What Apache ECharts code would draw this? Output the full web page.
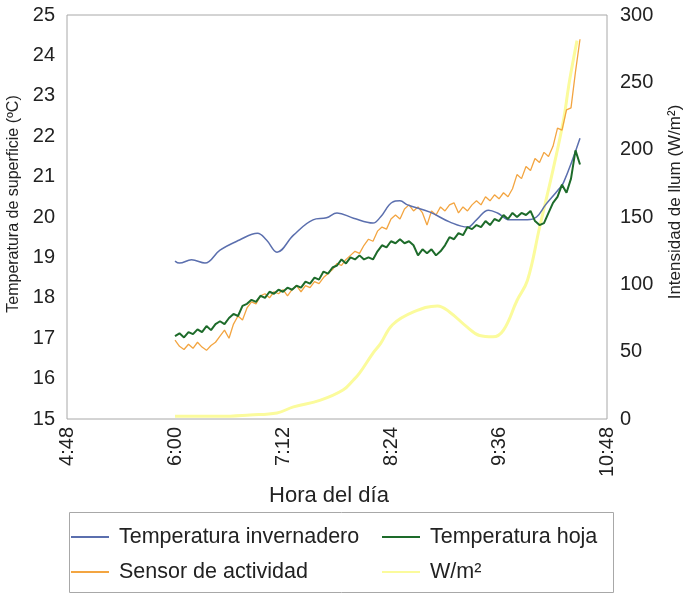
<!DOCTYPE html>
<html>

<head>
	<meta charset="utf-8">
	<title>temperatura hoja</title>
	<script type="text/javascript" src="https://cdn.jsdelivr.net/npm/echarts@6/dist/echarts.min.js"></script>
	<style>
		html, body { margin: 0; padding: 0; background: #fff; }
		#DIV1 { width: 684px; height: 595px; }
	</style>
</head>

<body>
	<div id="DIV1">
	</div>

	<script type="text/javascript">

		// readings of the leaf sensors, one every 3 minutes from 6:00
		const sampleStart = 360;
		const sampleStep = 3;

		const tempHoja = [
			17.05, 17.12, 17.02, 17.15, 17.1, 17.22, 17.15, 17.3, 17.2, 17.35,
			17.42, 17.35, 17.5, 17.6, 17.55, 17.8, 17.85, 17.95, 17.9, 18.05,
			18.0, 18.15, 18.1, 18.2, 18.15, 18.25, 18.2, 18.3, 18.25, 18.4,
			18.35, 18.5, 18.45, 18.65, 18.6, 18.75, 18.8, 18.95, 18.85, 19.0,
			18.95, 19.05, 18.95, 19.0, 18.95, 19.15, 19.3, 19.25, 19.4, 19.35,
			19.45, 19.35, 19.4, 19.3, 19.05, 19.2, 19.1, 19.2, 19.05, 19.15,
			19.3, 19.5, 19.45, 19.6, 19.55, 19.75, 19.7, 19.8, 19.75, 19.9,
			19.8, 19.95, 19.9, 20.05, 19.95, 20.1, 20.0, 20.1, 20.05, 20.15,
			19.9, 19.8, 19.85, 20.1, 20.35, 20.5, 20.8, 20.6, 20.95, 21.65,
			21.3
		];

		const sensorActividad = [
			16.95, 16.8, 16.72, 16.85, 16.75, 16.9, 16.78, 16.7, 16.82, 16.9,
			17.05, 17.2, 17.0, 17.35, 17.55, 17.45, 17.75, 17.9, 17.85, 18.05,
			18.1, 18.0, 18.15, 18.1, 18.2, 18.05, 18.2, 18.3, 18.15, 18.3,
			18.25, 18.4, 18.35, 18.5, 18.6, 18.7, 18.85, 18.8, 18.95, 19.05,
			19.15, 19.1, 19.3, 19.45, 19.4, 19.65, 19.75, 19.7, 19.95, 20.05,
			19.95, 20.2, 20.3, 20.15, 20.25, 20.1, 19.8, 20.15, 20.05, 20.25,
			20.15, 20.3, 20.35, 20.1, 20.25, 20.15, 20.3, 20.4, 20.3, 20.5,
			20.4, 20.55, 20.45, 20.6, 20.5, 20.7, 21.05, 20.95, 21.25, 21.15,
			21.45, 21.35, 21.6, 21.5, 21.75, 22.2, 22.15, 22.65, 22.7, 23.6,
			24.4
		];

		// greenhouse air temperature (minutes since midnight, ºC)
		const invernaderoMin = [360, 363, 371, 380, 390, 403, 415, 421, 428, 439, 452, 461, 468, 479, 492, 497,
			505, 510, 515, 530, 543, 555, 561, 569, 575, 583, 595, 601, 607, 615, 619, 630];
		const invernaderoTemp = [18.91, 18.86, 18.94, 18.86, 19.18, 19.43, 19.6, 19.43, 19.13, 19.55, 19.93, 19.98, 20.1, 19.97, 19.85, 20.0,
			20.37, 20.4, 20.3, 20.12, 19.88, 19.75, 19.93, 20.17, 20.1, 19.93, 19.93, 20.0, 20.3, 20.65, 20.85, 21.95];

		// light intensity (minutes since midnight, W/m2)
		const luzMin = [360, 390, 410, 428, 439, 457, 472, 479, 483, 492, 497, 505, 519, 535, 543, 555, 563, 572, 579, 588, 595, 603, 612, 619, 623, 628];
		const luzWm2 = [2, 2, 3, 4.5, 9, 14, 21.5, 29, 34, 49, 56, 70, 79.5, 84, 79.5, 68, 62, 61, 66, 88, 103, 142, 185, 222, 251, 281];

		const nombres = ["Temperatura invernadero", "Temperatura hoja", "Sensor de actividad", "W/m²"];

		const toHora = function(min){
			let h = Math.floor(min / 60), m = Math.round(min % 60);
			return h + ":" + (m < 10 ? "0" : "") + m;
		};
		const sampled = function(ys){ return ys.map((y, i) => [sampleStart + i * sampleStep, y]); };
		const pairs = function(xs, ys){ return xs.map((x, i) => [x, ys[i]]); };

		const chart = echarts.init(document.getElementById("DIV1"));
		const txt = "#222";

		const legendBase = {
			orient: "vertical",
			top: 521,
			itemWidth: 38,
			itemHeight: 2,
			itemGap: 13,
			icon: "rect",
			textStyle: { fontSize: 21.5, color: txt, padding: [0, 0, 0, 5] }
		};

		const option = {
			animation: false,
			textStyle: { fontFamily: "Liberation Sans, Arial, sans-serif" },
			grid: {
				left: 67, right: 77, top: 15, bottom: 176, outerBoundsMode: "none",
				show: true, borderColor: "#a8a8a8", borderWidth: 1
			},
			legend: [
				Object.assign({}, legendBase, { left: 66, data: [nombres[0], nombres[2]] }),
				Object.assign({}, legendBase, { left: 377, data: [nombres[1], nombres[3]] })
			],
			graphic: [{
				type: "rect",
				left: 67, top: 510,
				shape: { width: 544, height: 80 },
				style: { fill: "none", stroke: "#a8a8a8", lineWidth: 1 }
			}],
			xAxis: {
				type: "value", min: 288, max: 648, interval: 72,
				name: "Hora del día", nameLocation: "middle", nameGap: 65,
				nameTextStyle: { fontSize: 22, color: txt, padding: [0, 16, 0, 0] },
				axisLine: { show: false }, axisTick: { show: false }, splitLine: { show: false },
				axisLabel: { rotate: 90, margin: 8, fontSize: 20, color: txt, formatter: toHora }
			},
			yAxis: [{
				type: "value", min: 15, max: 25, interval: 1, position: "left",
				name: "Temperatura de superficie (ºC)", nameLocation: "middle", nameGap: 39, nameRotate: 90,
				nameTextStyle: { fontSize: 16, color: txt, padding: [0, 0, 0, 26] },
				axisLine: { show: false }, axisTick: { show: false }, splitLine: { show: false },
				axisLabel: { margin: 12, fontSize: 20, color: txt }
			}, {
				type: "value", min: 0, max: 300, interval: 50, position: "right",
				name: "Intensidad de llum (W/m²)", nameLocation: "middle", nameGap: 60, nameRotate: 90,
				nameTextStyle: { fontSize: 17, color: txt, padding: [0, 0, 0, 30] },
				axisLine: { show: false }, axisTick: { show: false }, splitLine: { show: false },
				axisLabel: { margin: 13, fontSize: 20, color: txt }
			}],
			series: [{
				name: nombres[3], type: "line", yAxisIndex: 1, smooth: 0.4, showSymbol: false,
				data: pairs(luzMin, luzWm2),
				itemStyle: { color: "#fbfb9c" }, lineStyle: { color: "#fbfb9c", width: 3 }
			}, {
				name: nombres[2], type: "line", yAxisIndex: 0, showSymbol: false,
				data: sampled(sensorActividad),
				itemStyle: { color: "#f3a541" }, lineStyle: { color: "#f3a541", width: 1.3 }
			}, {
				name: nombres[0], type: "line", yAxisIndex: 0, smooth: 0.4, showSymbol: false,
				data: pairs(invernaderoMin, invernaderoTemp),
				itemStyle: { color: "#5b6fae" }, lineStyle: { color: "#5b6fae", width: 1.5 }
			}, {
				name: nombres[1], type: "line", yAxisIndex: 0, showSymbol: false,
				data: sampled(tempHoja),
				itemStyle: { color: "#1d6b2a" }, lineStyle: { color: "#1d6b2a", width: 2 }
			}]
		};
		chart.setOption(option);

	</script>
</body>
</html>
